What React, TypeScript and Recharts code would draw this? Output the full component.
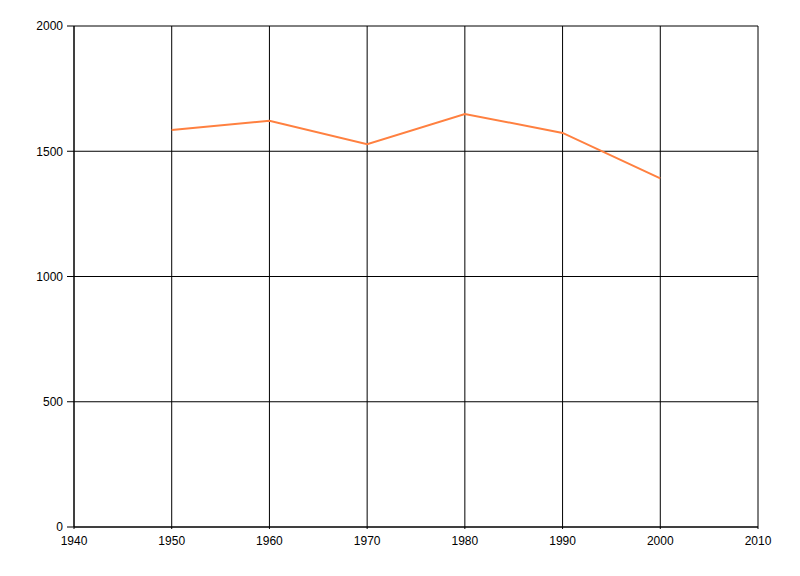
import React from "react";
import { LineChart, Line, XAxis, YAxis, CartesianGrid } from "recharts";

const years = [1950, 1960, 1970, 1980, 1990, 2000];
const values = [1585, 1622, 1528, 1649, 1573, 1392];
const xTicks = [1940, 1950, 1960, 1970, 1980, 1990, 2000, 2010];
const yTicks = [0, 500, 1000, 1500, 2000];

const data = years.map((year, i) => ({ year, value: values[i] }));

const tickStyle = { fill: "#000", fontSize: 12, fontFamily: "Liberation Sans, Arial, sans-serif" };

export default function App() {
  return (
    <div style={{ position: "absolute", left: 0, top: 0, background: "#fff" }}>
      <LineChart width={800} height={576} data={data} margin={{ top: 26, right: 42, bottom: 19, left: 0 }}>
        <CartesianGrid stroke="#000" strokeWidth={1} horizontalValues={yTicks} verticalValues={xTicks} />
        <XAxis
          dataKey="year"
          type="number"
          domain={[1940, 2010]}
          ticks={xTicks}
          interval={0}
          height={30}
          tickSize={2}
          tickMargin={7}
          stroke="#000"
          tick={tickStyle}
          tickLine={{ stroke: "#000" }}
          axisLine={{ stroke: "#000" }}
        />
        <YAxis
          type="number"
          domain={[0, 2000]}
          ticks={yTicks}
          interval={0}
          width={74}
          tickSize={7}
          tickMargin={4}
          stroke="#000"
          tick={tickStyle}
          tickLine={{ stroke: "#000" }}
          axisLine={{ stroke: "#000" }}
        />
        <Line
          dataKey="value"
          stroke="#FF8040"
          strokeWidth={2}
          dot={false}
          isAnimationActive={false}
        />
      </LineChart>
    </div>
  );
}
